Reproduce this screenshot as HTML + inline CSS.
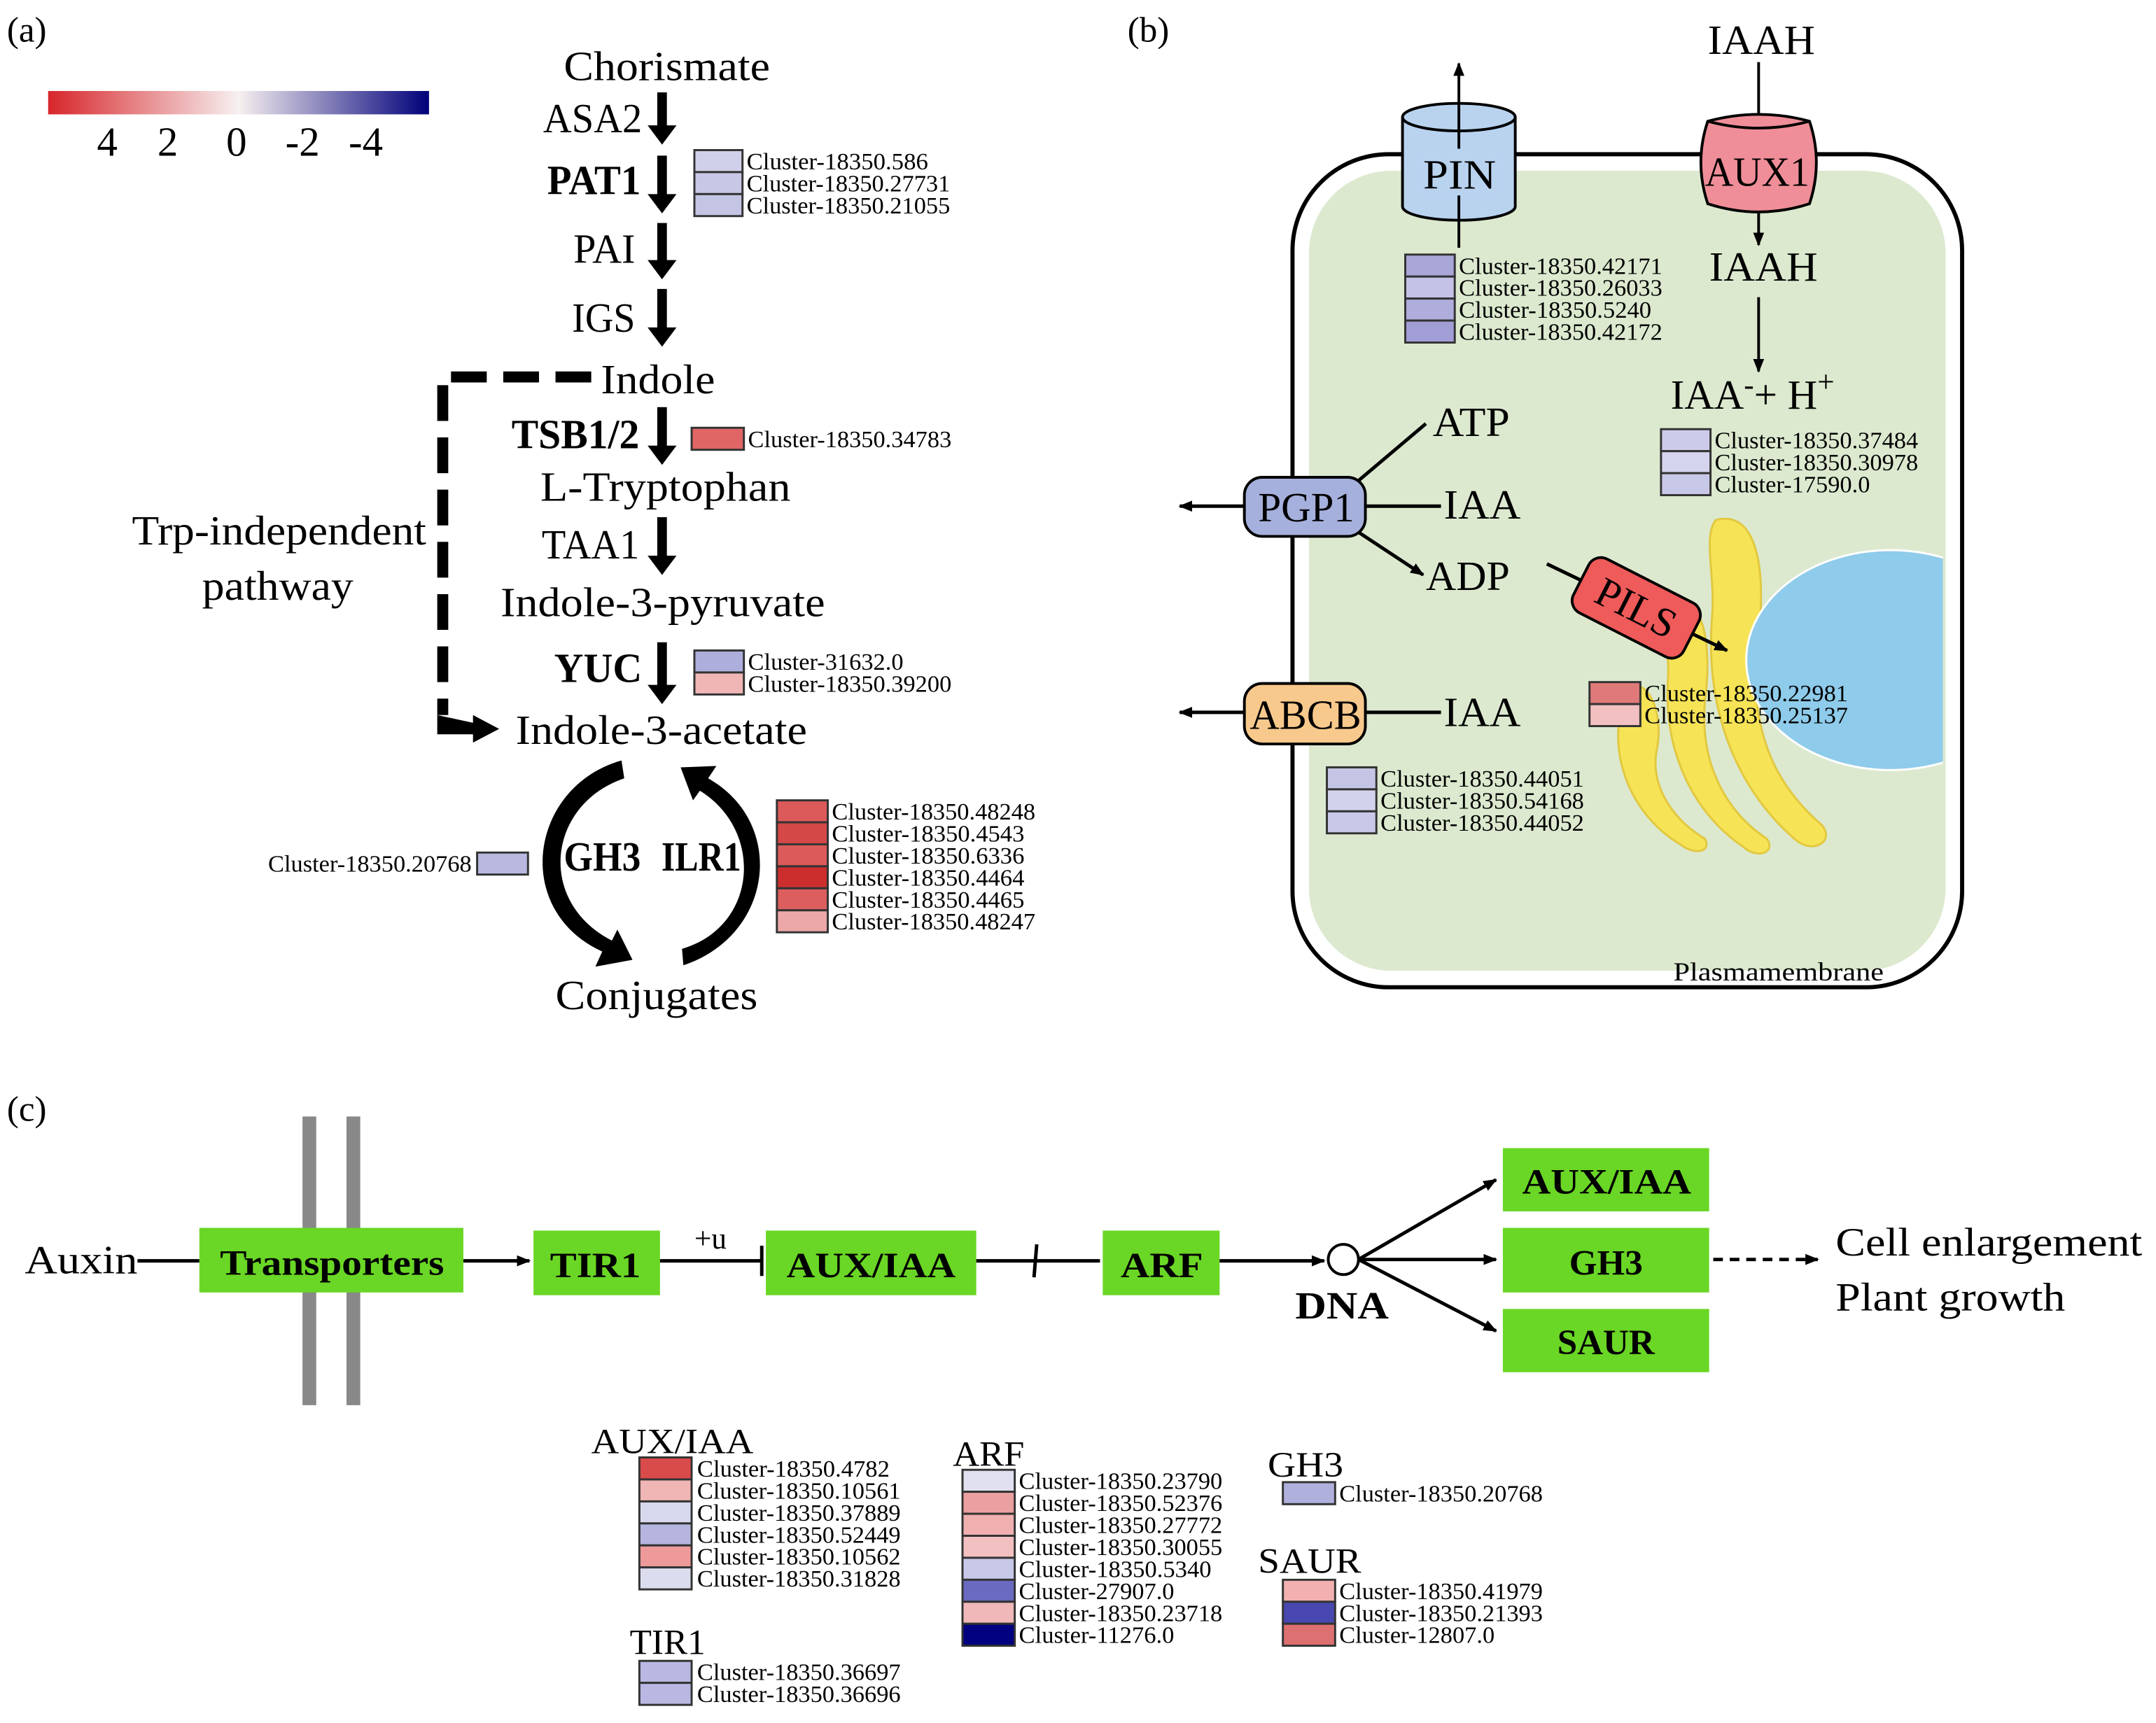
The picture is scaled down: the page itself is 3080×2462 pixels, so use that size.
<!DOCTYPE html>
<html><head><meta charset="utf-8"><style>html,body{margin:0;padding:0;background:#fff}svg{display:block}</style></head><body>
<svg xmlns="http://www.w3.org/2000/svg" width="3080" height="2462" viewBox="0 0 1568 1253" font-family="'Liberation Serif', serif">
<defs>
<linearGradient id="cb" x1="0" x2="1" y1="0" y2="0">
<stop offset="0" stop-color="#d7262b"/><stop offset="0.5" stop-color="#f7f0f0"/><stop offset="1" stop-color="#00007a"/></linearGradient>
<marker id="ah" markerWidth="10" markerHeight="10" refX="9" refY="5" orient="auto" markerUnits="userSpaceOnUse"><path d="M0,1 L10,5 L0,9 z" fill="#000"/></marker>
</defs>
<rect width="1568" height="1253" fill="#fff"/>
<g font-size="30" fill="#000" lengthAdjust="spacingAndGlyphs">
<text x="5" y="30" font-size="26">(a)</text>
<rect x="35" y="66" width="277" height="17" fill="url(#cb)"/>
<text x="78" y="113" text-anchor="middle">4</text><text x="122" y="113" text-anchor="middle">2</text><text x="172" y="113" text-anchor="middle">0</text><text x="220" y="113" text-anchor="middle">-2</text><text x="266" y="113" text-anchor="middle">-4</text>
<text x="410" y="58" textLength="150" lengthAdjust="spacingAndGlyphs">Chorismate</text>
<text x="395" y="96" textLength="72" lengthAdjust="spacingAndGlyphs">ASA2</text>
<text x="398" y="141" font-weight="bold" textLength="68" lengthAdjust="spacingAndGlyphs">PAT1</text>
<text x="417" y="191" textLength="45" lengthAdjust="spacingAndGlyphs">PAI</text>
<text x="416" y="241" textLength="46" lengthAdjust="spacingAndGlyphs">IGS</text>
<text x="437" y="286" textLength="83" lengthAdjust="spacingAndGlyphs">Indole</text>
<text x="372" y="326" font-weight="bold" textLength="93" lengthAdjust="spacingAndGlyphs">TSB1/2</text>
<text x="393" y="364" textLength="182" lengthAdjust="spacingAndGlyphs">L-Tryptophan</text>
<text x="394" y="406" textLength="71" lengthAdjust="spacingAndGlyphs">TAA1</text>
<text x="364" y="448" textLength="236" lengthAdjust="spacingAndGlyphs">Indole-3-pyruvate</text>
<text x="403" y="496" font-weight="bold" textLength="64" lengthAdjust="spacingAndGlyphs">YUC</text>
<text x="375" y="541" textLength="212" lengthAdjust="spacingAndGlyphs">Indole-3-acetate</text>
<text x="404" y="734" textLength="147" lengthAdjust="spacingAndGlyphs">Conjugates</text>
<text x="96" y="396" textLength="214" lengthAdjust="spacingAndGlyphs">Trp-independent</text>
<text x="147" y="436" textLength="110" lengthAdjust="spacingAndGlyphs">pathway</text>
<g fill="#000">
<path d="M478,67 h7 v24 h7 l-10.5,14 l-10.5,-14 h7z"/>
<path d="M478,113 h7 v28 h7 l-10.5,14 l-10.5,-14 h7z"/>
<path d="M478,162 h7 v27 h7 l-10.5,14 l-10.5,-14 h7z"/>
<path d="M478,210 h7 v28 h7 l-10.5,14 l-10.5,-14 h7z"/>
<path d="M478,296 h7 v28 h7 l-10.5,14 l-10.5,-14 h7z"/>
<path d="M478,376 h7 v28 h7 l-10.5,14 l-10.5,-14 h7z"/>
<path d="M478,467 h7 v31 h7 l-10.5,14 l-10.5,-14 h7z"/>
</g>
<path d="M430,274 H322 V520" fill="none" stroke="#000" stroke-width="8" stroke-dasharray="26,12"/>
<path d="M318,520 V534 H346 V526 Z"/>
<path d="M344,520 L363,530 L344,540z"/>
<text x="410" y="633" font-weight="bold" textLength="56" lengthAdjust="spacingAndGlyphs">GH3</text>
<text x="481" y="633" font-weight="bold" textLength="58" lengthAdjust="spacingAndGlyphs">ILR1</text>
<path d="M452,553 C385,572 372,662 438,692 L433,703 L460,698 L449,676 L445,684 C390,656 398,585 454,566z"/>
<path d="M497,702 C563,680 572,598 515,566 L521,557 L495,558 L504,582 L509,575 C556,604 551,674 496,690z"/>
</g>
<g stroke="#333" stroke-width="1.5">
<rect x="505" y="109" width="35" height="16" fill="#d0d0ea"/><rect x="505" y="125" width="35" height="16" fill="#c8c8e6"/><rect x="505" y="141" width="35" height="16" fill="#c4c4e4"/>
<rect x="503" y="311" width="38" height="16" fill="#e06565"/>
<rect x="505" y="473" width="36" height="16" fill="#aeaedc"/><rect x="505" y="489" width="36" height="16" fill="#f0b6b6"/>
<rect x="347" y="620" width="37" height="16" fill="#b8b8e0"/>
<rect x="565" y="582" width="37" height="16" fill="#dc5a5a"/><rect x="565" y="598" width="37" height="16" fill="#d44848"/><rect x="565" y="614" width="37" height="16" fill="#dc5a5a"/><rect x="565" y="630" width="37" height="16" fill="#cc2e2e"/><rect x="565" y="646" width="37" height="16" fill="#dc5e5e"/><rect x="565" y="662" width="37" height="16" fill="#eca8a8"/>
</g>
<g font-size="17">
<text x="543" y="123" textLength="132" lengthAdjust="spacingAndGlyphs">Cluster-18350.586</text>
<text x="543" y="139" textLength="148" lengthAdjust="spacingAndGlyphs">Cluster-18350.27731</text>
<text x="543" y="155" textLength="148" lengthAdjust="spacingAndGlyphs">Cluster-18350.21055</text>
<text x="544" y="325" textLength="148" lengthAdjust="spacingAndGlyphs">Cluster-18350.34783</text>
<text x="544" y="487" textLength="113" lengthAdjust="spacingAndGlyphs">Cluster-31632.0</text>
<text x="544" y="503" textLength="148" lengthAdjust="spacingAndGlyphs">Cluster-18350.39200</text>
<text x="195" y="634" textLength="148" lengthAdjust="spacingAndGlyphs">Cluster-18350.20768</text>
<text x="605" y="596" textLength="148" lengthAdjust="spacingAndGlyphs">Cluster-18350.48248</text>
<text x="605" y="612" textLength="140" lengthAdjust="spacingAndGlyphs">Cluster-18350.4543</text>
<text x="605" y="628" textLength="140" lengthAdjust="spacingAndGlyphs">Cluster-18350.6336</text>
<text x="605" y="644" textLength="140" lengthAdjust="spacingAndGlyphs">Cluster-18350.4464</text>
<text x="605" y="660" textLength="140" lengthAdjust="spacingAndGlyphs">Cluster-18350.4465</text>
<text x="605" y="676" textLength="148" lengthAdjust="spacingAndGlyphs">Cluster-18350.48247</text>
</g>

<text x="820" y="30" font-size="26">(b)</text>
<rect x="940" y="112" width="487" height="606" rx="70" fill="#fff" stroke="#000" stroke-width="3"/>
<rect x="952" y="124" width="463" height="582" rx="60" fill="#dce9cf"/>
<clipPath id="cl"><rect x="952" y="124" width="461" height="582" rx="60"/></clipPath>
<g clip-path="url(#cl)">
<g fill="#f6e356" stroke="#e2c840" stroke-width="1.5">
<path d="M1248,378 C1280,370 1285,420 1278,470 C1272,530 1290,570 1325,600 C1335,612 1318,622 1305,610 C1265,575 1240,520 1245,450 C1248,420 1238,390 1248,378z"/>
<path d="M1215,440 C1240,430 1245,470 1240,510 C1236,555 1255,590 1285,610 C1292,620 1278,625 1268,616 C1230,590 1210,545 1213,495 C1215,470 1205,450 1215,440z"/>
<path d="M1180,500 C1200,490 1210,520 1205,545 C1200,570 1215,595 1240,610 C1245,620 1232,622 1222,614 C1190,595 1175,560 1177,530 C1178,515 1170,505 1180,500z"/>
</g>
<ellipse cx="1375" cy="480" rx="105" ry="80" fill="#8fcbea" stroke="#fff" stroke-width="1.5"/>
</g>
<path d="M1020,85 V150 A41,10 0 0 0 1102,150 V85" fill="#b9d3ef" stroke="#000" stroke-width="2"/>
<ellipse cx="1061" cy="85" rx="41" ry="10" fill="#b9d3ef" stroke="#000" stroke-width="2"/>
<line x1="1061" y1="180" x2="1061" y2="46" stroke="#000" stroke-width="2" marker-end="url(#ah)"/>
<rect x="1035" y="108" width="53" height="34" fill="#b9d3ef"/>
<text x="1035" y="137" font-size="30" textLength="53" lengthAdjust="spacingAndGlyphs">PIN</text>
<line x1="1279" y1="45" x2="1279" y2="85" stroke="#000" stroke-width="2"/>
<text x="1242" y="39" font-size="30" textLength="78" lengthAdjust="spacingAndGlyphs">IAAH</text>
<path d="M1242,88 Q1232,118 1242,148 Q1279,160 1316,148 Q1326,118 1316,88 Q1279,78 1242,88z" fill="#ef8e98" stroke="#000" stroke-width="2"/>
<path d="M1242,88 Q1279,98 1316,88" fill="none" stroke="#000" stroke-width="2"/>
<text x="1240" y="135" font-size="30" textLength="76" lengthAdjust="spacingAndGlyphs">AUX1</text>
<line x1="1279" y1="155" x2="1279" y2="178" stroke="#000" stroke-width="2" marker-end="url(#ah)"/>
<text x="1243" y="204" font-size="30" textLength="79" lengthAdjust="spacingAndGlyphs">IAAH</text>
<line x1="1279" y1="216" x2="1279" y2="270" stroke="#000" stroke-width="2" marker-end="url(#ah)"/>
<text x="1215" y="297" font-size="30">IAA<tspan font-size="22" dy="-10">-</tspan><tspan dy="10">+ H</tspan><tspan font-size="22" dy="-12">+</tspan></text>
<line x1="905" y1="368" x2="858" y2="368" stroke="#000" stroke-width="2.5" marker-end="url(#ah)"/>
<line x1="985" y1="352" x2="1037" y2="308" stroke="#000" stroke-width="2.5"/>
<line x1="993" y1="368" x2="1048" y2="368" stroke="#000" stroke-width="2.5"/>
<line x1="985" y1="385" x2="1035" y2="418" stroke="#000" stroke-width="2.5" marker-end="url(#ah)"/>
<rect x="905" y="347" width="88" height="43" rx="13" fill="#a6b0dc" stroke="#000" stroke-width="2"/>
<text x="915" y="379" font-size="30" textLength="70" lengthAdjust="spacingAndGlyphs">PGP1</text>
<text x="1042" y="317" font-size="30" textLength="56" lengthAdjust="spacingAndGlyphs">ATP</text>
<text x="1050" y="377" font-size="30" textLength="56" lengthAdjust="spacingAndGlyphs">IAA</text>
<text x="1037" y="429" font-size="30" textLength="61" lengthAdjust="spacingAndGlyphs">ADP</text>
<line x1="905" y1="518" x2="858" y2="518" stroke="#000" stroke-width="2.5" marker-end="url(#ah)"/>
<line x1="993" y1="518" x2="1048" y2="518" stroke="#000" stroke-width="2.5"/>
<rect x="905" y="497" width="88" height="44" rx="13" fill="#f8c98c" stroke="#000" stroke-width="2"/>
<text x="909" y="530" font-size="30" textLength="81" lengthAdjust="spacingAndGlyphs">ABCB</text>
<text x="1050" y="528" font-size="30" textLength="56" lengthAdjust="spacingAndGlyphs">IAA</text>
<line x1="1125" y1="410" x2="1256" y2="473" stroke="#000" stroke-width="2.5" marker-end="url(#ah)"/>
<g transform="translate(1190,442) rotate(27)">
<rect x="-45" y="-22" width="90" height="44" rx="10" fill="#ef5a5a" stroke="#000" stroke-width="2"/>
<text x="0" y="10" font-size="30" text-anchor="middle">PILS</text>
</g>
<text x="1217" y="713" font-size="19" textLength="153" lengthAdjust="spacingAndGlyphs">Plasmamembrane</text>
<g stroke="#333" stroke-width="1.5">
<rect x="1022" y="185" width="36" height="16" fill="#a9a7d8"/><rect x="1022" y="201" width="36" height="16" fill="#c4c3e5"/><rect x="1022" y="217" width="36" height="16" fill="#aeaddb"/><rect x="1022" y="233" width="36" height="16" fill="#a09ed5"/>
<rect x="1208" y="312" width="36" height="16" fill="#ccccea"/><rect x="1208" y="328" width="36" height="16" fill="#d4d4ee"/><rect x="1208" y="344" width="36" height="16" fill="#c8c8e8"/>
<rect x="965" y="558" width="36" height="16" fill="#c4c4e4"/><rect x="965" y="574" width="36" height="16" fill="#d2d2ec"/><rect x="965" y="590" width="36" height="16" fill="#c8c8e8"/>
<rect x="1156" y="496" width="37" height="16" fill="#e07a7a"/><rect x="1156" y="512" width="37" height="16" fill="#f2c0c0"/>
</g>
<g font-size="17">
<text x="1061" y="199" textLength="148" lengthAdjust="spacingAndGlyphs">Cluster-18350.42171</text>
<text x="1061" y="215" textLength="148" lengthAdjust="spacingAndGlyphs">Cluster-18350.26033</text>
<text x="1061" y="231" textLength="140" lengthAdjust="spacingAndGlyphs">Cluster-18350.5240</text>
<text x="1061" y="247" textLength="148" lengthAdjust="spacingAndGlyphs">Cluster-18350.42172</text>
<text x="1247" y="326" textLength="148" lengthAdjust="spacingAndGlyphs">Cluster-18350.37484</text>
<text x="1247" y="342" textLength="148" lengthAdjust="spacingAndGlyphs">Cluster-18350.30978</text>
<text x="1247" y="358" textLength="113" lengthAdjust="spacingAndGlyphs">Cluster-17590.0</text>
<text x="1004" y="572" textLength="148" lengthAdjust="spacingAndGlyphs">Cluster-18350.44051</text>
<text x="1004" y="588" textLength="148" lengthAdjust="spacingAndGlyphs">Cluster-18350.54168</text>
<text x="1004" y="604" textLength="148" lengthAdjust="spacingAndGlyphs">Cluster-18350.44052</text>
<text x="1196" y="510" textLength="148" lengthAdjust="spacingAndGlyphs">Cluster-18350.22981</text>
<text x="1196" y="526" textLength="148" lengthAdjust="spacingAndGlyphs">Cluster-18350.25137</text>
</g>

<text x="5" y="815" font-size="26">(c)</text>
<rect x="220" y="812" width="10" height="210" fill="#888"/>
<rect x="252" y="812" width="10" height="210" fill="#888"/>
<text x="18" y="926" font-size="29" textLength="82" lengthAdjust="spacingAndGlyphs">Auxin</text>
<line x1="100" y1="917" x2="145" y2="917" stroke="#000" stroke-width="2.5"/>
<g fill="#6ad625">
<rect x="145" y="893" width="192" height="47"/>
<rect x="388" y="895" width="92" height="47"/>
<rect x="557" y="895" width="153" height="47"/>
<rect x="802" y="895" width="85" height="47"/>
<rect x="1093" y="835" width="150" height="46"/>
<rect x="1093" y="893" width="150" height="47"/>
<rect x="1093" y="952" width="150" height="46"/>
</g>
<g font-size="26" font-weight="bold">
<text x="160" y="927" textLength="163" lengthAdjust="spacingAndGlyphs">Transporters</text>
<text x="400" y="929" textLength="66" lengthAdjust="spacingAndGlyphs">TIR1</text>
<text x="572" y="929" textLength="123" lengthAdjust="spacingAndGlyphs">AUX/IAA</text>
<text x="815" y="929" textLength="60" lengthAdjust="spacingAndGlyphs">ARF</text>
<text x="1107" y="868" textLength="123" lengthAdjust="spacingAndGlyphs">AUX/IAA</text>
<text x="1168" y="927" text-anchor="middle">GH3</text>
<text x="1168" y="985" text-anchor="middle">SAUR</text>
</g>
<g stroke="#000" stroke-width="2.5" fill="none">
<line x1="337" y1="917" x2="385" y2="917" marker-end="url(#ah)"/>
<line x1="480" y1="917" x2="554" y2="917"/>
<line x1="554" y1="906" x2="554" y2="928"/>
<line x1="710" y1="917" x2="800" y2="917"/>
<line x1="754" y1="905" x2="752" y2="929"/>
<line x1="887" y1="917" x2="963" y2="917" marker-end="url(#ah)"/>
<line x1="988" y1="916" x2="1088" y2="858" marker-end="url(#ah)"/>
<line x1="988" y1="916" x2="1088" y2="916" marker-end="url(#ah)"/>
<line x1="988" y1="916" x2="1088" y2="968" marker-end="url(#ah)"/>
<line x1="1246" y1="916" x2="1322" y2="916" stroke-dasharray="7,5" marker-end="url(#ah)"/>
</g>
<circle cx="977" cy="916" r="11" fill="#fff" stroke="#000" stroke-width="2"/>
<text x="505" y="908" font-size="22">+u</text>
<text x="942" y="959" font-size="28" font-weight="bold" textLength="68" lengthAdjust="spacingAndGlyphs">DNA</text>
<text x="1335" y="913" font-size="29" textLength="223" lengthAdjust="spacingAndGlyphs">Cell enlargement</text>
<text x="1335" y="953" font-size="29" textLength="167" lengthAdjust="spacingAndGlyphs">Plant growth</text>
<g font-size="26">
<text x="430" y="1057" textLength="118" lengthAdjust="spacingAndGlyphs">AUX/IAA</text>
<text x="458" y="1203" textLength="55" lengthAdjust="spacingAndGlyphs">TIR1</text>
<text x="693" y="1066" textLength="52" lengthAdjust="spacingAndGlyphs">ARF</text>
<text x="922" y="1074" textLength="55" lengthAdjust="spacingAndGlyphs">GH3</text>
<text x="915" y="1144" textLength="75" lengthAdjust="spacingAndGlyphs">SAUR</text>
</g>
<g stroke="#333" stroke-width="1.5">
<rect x="465" y="1060" width="38" height="16" fill="#d94a4a"/><rect x="465" y="1076" width="38" height="16" fill="#f0b5b5"/><rect x="465" y="1092" width="38" height="16" fill="#d8d8ee"/><rect x="465" y="1108" width="38" height="16" fill="#b5b5e0"/><rect x="465" y="1124" width="38" height="16" fill="#ee9a9a"/><rect x="465" y="1140" width="38" height="16" fill="#dcdcef"/>
<rect x="465" y="1208" width="38" height="16" fill="#b8b8e2"/><rect x="465" y="1224" width="38" height="16" fill="#b8b8e2"/>
<rect x="700" y="1069" width="38" height="16" fill="#e0e0f0"/><rect x="700" y="1085" width="38" height="16" fill="#eba0a0"/><rect x="700" y="1101" width="38" height="16" fill="#f0b0b0"/><rect x="700" y="1117" width="38" height="16" fill="#f2c0c0"/><rect x="700" y="1133" width="38" height="16" fill="#c8c8e8"/><rect x="700" y="1149" width="38" height="16" fill="#6a6ac0"/><rect x="700" y="1165" width="38" height="16" fill="#f0b8b8"/><rect x="700" y="1181" width="38" height="16" fill="#000080"/>
<rect x="933" y="1078" width="38" height="16" fill="#b0b0dc"/>
<rect x="933" y="1149" width="38" height="16" fill="#f2b0b0"/><rect x="933" y="1165" width="38" height="16" fill="#4848b0"/><rect x="933" y="1181" width="38" height="16" fill="#dd7070"/>
</g>
<g font-size="17">
<text x="507" y="1074" textLength="140" lengthAdjust="spacingAndGlyphs">Cluster-18350.4782</text>
<text x="507" y="1090" textLength="148" lengthAdjust="spacingAndGlyphs">Cluster-18350.10561</text>
<text x="507" y="1106" textLength="148" lengthAdjust="spacingAndGlyphs">Cluster-18350.37889</text>
<text x="507" y="1122" textLength="148" lengthAdjust="spacingAndGlyphs">Cluster-18350.52449</text>
<text x="507" y="1138" textLength="148" lengthAdjust="spacingAndGlyphs">Cluster-18350.10562</text>
<text x="507" y="1154" textLength="148" lengthAdjust="spacingAndGlyphs">Cluster-18350.31828</text>
<text x="507" y="1222" textLength="148" lengthAdjust="spacingAndGlyphs">Cluster-18350.36697</text>
<text x="507" y="1238" textLength="148" lengthAdjust="spacingAndGlyphs">Cluster-18350.36696</text>
<text x="741" y="1083" textLength="148" lengthAdjust="spacingAndGlyphs">Cluster-18350.23790</text>
<text x="741" y="1099" textLength="148" lengthAdjust="spacingAndGlyphs">Cluster-18350.52376</text>
<text x="741" y="1115" textLength="148" lengthAdjust="spacingAndGlyphs">Cluster-18350.27772</text>
<text x="741" y="1131" textLength="148" lengthAdjust="spacingAndGlyphs">Cluster-18350.30055</text>
<text x="741" y="1147" textLength="140" lengthAdjust="spacingAndGlyphs">Cluster-18350.5340</text>
<text x="741" y="1163" textLength="113" lengthAdjust="spacingAndGlyphs">Cluster-27907.0</text>
<text x="741" y="1179" textLength="148" lengthAdjust="spacingAndGlyphs">Cluster-18350.23718</text>
<text x="741" y="1195" textLength="113" lengthAdjust="spacingAndGlyphs">Cluster-11276.0</text>
<text x="974" y="1092" textLength="148" lengthAdjust="spacingAndGlyphs">Cluster-18350.20768</text>
<text x="974" y="1163" textLength="148" lengthAdjust="spacingAndGlyphs">Cluster-18350.41979</text>
<text x="974" y="1179" textLength="148" lengthAdjust="spacingAndGlyphs">Cluster-18350.21393</text>
<text x="974" y="1195" textLength="113" lengthAdjust="spacingAndGlyphs">Cluster-12807.0</text>
</g>
</svg>
</body></html>
